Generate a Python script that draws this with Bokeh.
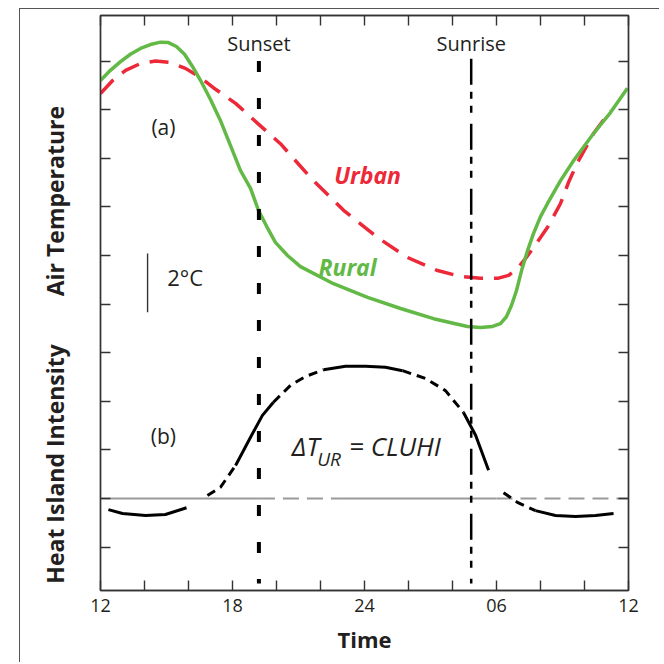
from bokeh.plotting import figure
from bokeh.models import Range1d, FixedTicker, LinearAxis, Label
from bokeh.embed import file_html
from bokeh.resources import INLINE

# ---------------- data ----------------
rural_hours = [12.00, 12.45, 12.91, 13.36, 13.82, 14.27, 14.73, 15.09, 15.45, 15.82,
               16.18, 16.55, 17.00, 17.45, 17.91, 18.36, 18.82, 19.18, 19.55, 19.95,
               20.50, 21.09, 22.59, 24.14, 25.64, 27.14, 28.68, 29.27, 29.82, 30.18,
               30.45, 30.68, 30.91, 31.14, 31.41, 31.68, 32.00, 32.32, 32.91, 33.50,
               34.41, 35.18, 35.95]
rural_temp = [8.60, 8.81, 8.99, 9.14, 9.26, 9.34, 9.39, 9.38, 9.30, 9.14,
              8.89, 8.60, 8.21, 7.78, 7.26, 6.75, 6.38, 5.93, 5.60, 5.27,
              5.00, 4.77, 4.42, 4.14, 3.91, 3.70, 3.54, 3.52, 3.54, 3.60,
              3.74, 3.97, 4.28, 4.69, 5.10, 5.45, 5.80, 6.07, 6.54, 6.95,
              7.51, 7.94, 8.44]

urban_hours = [12.00, 12.55, 13.14, 13.82, 14.50, 15.18, 15.86, 16.55, 17.23, 18.14,
               19.41, 20.18, 21.55, 23.05, 24.59, 25.95, 27.32, 28.36, 29.27, 30.05,
               30.55, 30.95, 31.32, 31.68, 32.32, 32.91, 33.27, 33.68, 34.41, 35.18]
urban_temp = [8.33, 8.60, 8.81, 8.95, 9.00, 8.97, 8.85, 8.66, 8.42, 8.13,
              7.61, 7.30, 6.60, 5.93, 5.37, 4.96, 4.69, 4.57, 4.53, 4.53,
              4.59, 4.73, 4.94, 5.16, 5.58, 6.07, 6.50, 6.91, 7.51, 7.98]

hi_hours = [12.36, 13.0, 14.05, 14.95, 15.91,
            16.86, 17.45, 18.14,
            18.82, 19.36, 19.86,
            20.64, 21.32, 22.14,
            23.14, 24.05, 24.95, 25.73,
            26.77, 27.68, 28.5,
            29.05, 29.64,
            30.32, 30.95, 31.77,
            32.68, 33.59, 34.5, 35.32]
hi_values = [-0.23, -0.31, -0.35, -0.33, -0.19,
             0.06, 0.23, 0.68,
             1.26, 1.71, 1.98,
             2.33, 2.51, 2.65,
             2.72, 2.72, 2.70, 2.63,
             2.47, 2.22, 1.77,
             1.30, 0.58,
             0.12, -0.08, -0.25,
             -0.35, -0.37, -0.35, -0.31]

sunset_hour = 19.2
sunrise_hour = 28.85
x_ticks = [12, 14, 16, 18, 20, 22, 24, 26, 28, 30, 32, 34, 36]
x_tick_labels = {12: "12", 18: "18", 24: "24", 30: "06", 36: "12"}
y_ticks = [-1, 0, 1, 2, 3, 4, 5, 6, 7, 8, 9]
scale_bar = [3.83, 5.04]   # 2 degC bar
y_title_bottom = "Heat Island Intensity"
y_title_top = "Air Temperature"
x_title = "Time"

# ---------------- styles ----------------
FONT = "Open Sans"
TXT = "#231f20"
GREEN = "#62b946"
RED = "#ec2839"
NB = "\u00a0"

p = figure(width=640, height=654,
           x_range=Range1d(12, 36), y_range=Range1d(-1.893, 9.938),
           x_axis_location=None, y_axis_location=None,
           output_backend="svg", toolbar_location=None,
           min_border_left=80, min_border_right=32,
           min_border_top=6, min_border_bottom=73)
p.margin = (8, 0, 0, 19)
p.styles = {"border-top": "1px solid #555555", "border-left": "1px solid #555555"}
p.xgrid.visible = False
p.ygrid.visible = False
p.outline_line_color = "#333333"
p.outline_line_width = 1.4
p.background_fill_color = "white"
p.border_fill_color = "white"

def mk_axis(kind, loc, labels):
    ax = LinearAxis()
    if kind == "x":
        ax.ticker = FixedTicker(ticks=x_ticks)
        if labels:
            ax.major_label_overrides = {t: x_tick_labels.get(t, "") for t in x_ticks}
    else:
        ax.ticker = FixedTicker(ticks=y_ticks)
    ax.major_tick_in = 10
    ax.major_tick_out = 0
    ax.minor_tick_in = 0
    ax.minor_tick_out = 0
    ax.major_tick_line_color = "#333333"
    ax.major_tick_line_width = 1.4
    ax.axis_line_color = "#333333"
    ax.axis_line_width = 1.4
    if labels:
        ax.major_label_text_font = FONT
        ax.major_label_text_font_size = "18px"
        ax.major_label_text_color = TXT
        ax.major_label_standoff = 8
    else:
        ax.major_label_text_font_size = "0px"
        ax.major_label_standoff = 0
    p.add_layout(ax, loc)
    return ax

bottom = mk_axis("x", "below", True)
bottom.axis_label = x_title
bottom.axis_label_text_font = FONT
bottom.axis_label_text_font_size = "22px"
bottom.axis_label_text_font_style = "bold"
bottom.axis_label_text_color = TXT
bottom.axis_label_standoff = 9
mk_axis("x", "above", False)
left = mk_axis("y", "left", False)
left.axis_label = y_title_bottom + NB * 8 + y_title_top + NB * 14
left.axis_label_text_font = FONT
left.axis_label_text_font_size = "23px"
left.axis_label_text_font_style = "bold"
left.axis_label_text_color = TXT
left.axis_label_standoff = 30
mk_axis("y", "right", False)

# zero line of heat island intensity (grey, partly dashed)
grey_pieces = [(12, sunset_hour, "solid"), (sunset_hour, 22.8, "16 8"),
               (22.8, 30.0, "solid"), (30.0, 36, "16 8")]
for a, b, d in grey_pieces:
    p.line([a, b], [0, 0], line_color="#9a9a9a", line_width=2, line_dash=d)

# urban and rural temperatures
p.line(urban_hours, urban_temp, line_color=RED, line_width=3.5, line_dash="19 11",
       line_join="round")
p.line(rural_hours, rural_temp, line_color=GREEN, line_width=3.5, line_join="round")

# heat island intensity curve (alternating solid / dashed pieces)
hi_pieces = [(0, 4, "solid"), (5, 7, "9 6"), (7, 10, "solid"), (10, 13, "9 6"),
             (13, 17, "solid"), (17, 20, "9 6"), (20, 22, "solid"),
             (23, 25, "9 6"), (25, 29, "solid")]
for i0, i1, d in hi_pieces:
    p.line(hi_hours[i0:i1 + 1], hi_values[i0:i1 + 1], line_color="black",
           line_width=3, line_dash=d, line_cap="butt", line_join="round")

# sunset / sunrise verticals
p.segment(x0=[sunset_hour], y0=[9.0], x1=[sunset_hour], y1=[-1.75],
          line_color="black", line_width=4, line_dash="11 26")
p.segment(x0=[sunrise_hour], y0=[9.05], x1=[sunrise_hour], y1=[-1.75],
          line_color="black", line_width=2.5, line_dash="26 7 7 7 7 11")

# 2 degC scale bar
p.segment(x0=[14.14], y0=[scale_bar[0]], x1=[14.14], y1=[scale_bar[1]],
          line_color="#333333", line_width=1.4)

def lab(x, y, text, size="16px", color=TXT, style="normal", align="center",
        baseline="middle"):
    p.add_layout(Label(x=x, y=y, text=text, text_font=FONT, text_font_size=size,
                       text_color=color, text_font_style=style, text_align=align,
                       text_baseline=baseline))

lab(sunset_hour, 9.36, "Sunset", "20px")
lab(sunrise_hour, 9.36, "Sunrise", "20px")
lab(14.86, 7.65, "(a)", "21px")
lab(14.86, 1.28, "(b)", "21px")
lab(15.85, 4.55, "2°C", "22px")
lab(24.14, 6.65, "Urban", "23px", RED, "bold italic")
lab(23.23, 4.77, "Rural", "23px", GREEN, "bold italic")
lab(21.95, 1.07, "ΔT", "26px", TXT, "italic", "right")
lab(21.85, 0.82, "UR", "19px", TXT, "italic", "left")
lab(23.3, 1.07, "= CLUHI", "26px", TXT, "italic", "left")

open("out.html", "w").write(file_html(p, INLINE))
